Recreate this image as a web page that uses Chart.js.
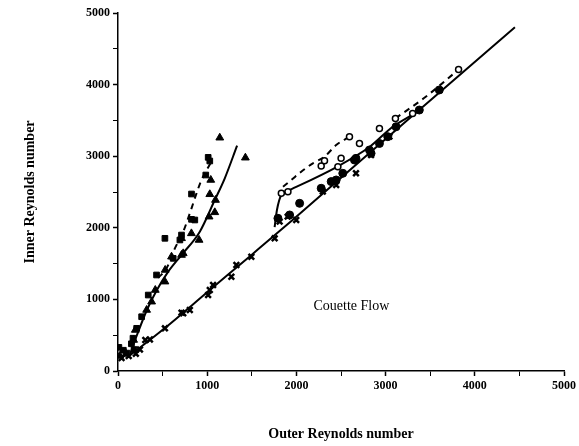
<!DOCTYPE html>
<html>
<head>
<meta charset="utf-8">
<script src="https://cdn.jsdelivr.net/npm/chart.js@4/dist/chart.umd.min.js"></script>
<style>
  html, body { margin: 0; padding: 0; background: #fff; }
  #wrap { width: 579px; height: 446px; }
</style>
</head>
<body>
<div id="wrap"><canvas id="couette"></canvas></div>
<script>
// measured points, [outer Re, inner Re]
const squares = [[10,330],[60,290],[100,250],[150,380],[180,300],[168,458],[209,596],[265,758],[339,1061],[432,1341],
  [526,1853],[619,1573],[694,1830],[712,1899],[824,2118],[861,2109],[824,2472],[984,2737],[1011,2984],[1029,2933]];
const triangles = [[20,210],[90,240],[175,433],[194,573],[321,852],[377,968],[418,1131],[526,1248],[529,1411],
  [600,1596],[712,1620],[731,1643],[712,1853],[823,1922],[909,1830],[1021,2155],[1085,2216],[1093,2388],
  [1029,2468],[1040,2668],[1141,3258],[1428,2979]];
const crosses = [[40,180],[120,210],[200,240],[246,300],[306,433],[358,440],[526,596],[712,815],[731,806],
  [805,852],[1010,1061],[1029,1131],[1066,1201],[1271,1317],[1327,1480],[1495,1596],[1756,1853],[1812,2086],
  [1902,2156],[1998,2109],[2296,2505],[2446,2598],[2668,2761],[2837,3017],[3043,3273]];
const filledCircles = [[1793,2133],[1924,2179],[2036,2342],[2278,2552],[2390,2645],[2446,2668],[2520,2761],
  [2651,2947],[2668,2970],[2819,3087],[2837,3040],[2931,3178],[3024,3273],[3117,3411],[3378,3645],[3602,3925]];
const openCircles = [[1831,2482],[1905,2505],[2278,2863],[2315,2937],[2465,2853],[2501,2970],[2595,3273],
  [2707,3178],[2931,3388],[3110,3528],[3303,3598],[3818,4210]];

// hand drawn curves
const mainFit = [[130,215],[526,600],[1000,1100],[1500,1625],[1957,2109],[3000,3240],[4450,4800]];
const leftSolid = [[140,250],[213,503],[324,852],[436,1131],[563,1387],[712,1620],[917,1946],[1085,2388],[1197,2691],[1335,3147]];
const leftDashed = [[450,1300],[544,1434],[638,1713],[731,1946],[824,2272],[880,2481],[936,2668],[1047,2924]];
const midSolid = [[1756,2011],[1782,2249],[1831,2458],[1924,2528],[2450,2849],[2819,3128],[3080,3411],[3300,3580]];
const midDashed = [[1850,2574],[1943,2668],[2054,2784],[2185,2901],[2315,2993],[2446,3156],[2595,3273]];
const topDashed = [[3110,3528],[3450,3830],[3818,4210]];

const xTicks = [0, 1000, 2000, 3000, 4000, 5000];
const yTicks = [0, 1000, 2000, 3000, 4000, 5000];
const noteText = "Couette Flow";
const notePos = [2617, 908];

const serif = '"Liberation Serif", "Times New Roman", serif';
const pts = a => a.map(p => ({ x: p[0], y: p[1] }));

function marks(data, style, r, filled) {
  return {
    data: pts(data), showLine: false, pointStyle: style, pointRadius: r, pointHoverRadius: r,
    backgroundColor: filled ? "#000" : "#fff", borderColor: "#000", borderWidth: filled ? 1 : 1.5
  };
}
function curve(data, dashed) {
  return {
    data: pts(data), showLine: true, pointRadius: 0, borderColor: "#000", borderWidth: 2,
    borderDash: dashed ? [6, 5] : [], cubicInterpolationMode: "monotone", fill: false
  };
}

const notePlugin = {
  id: "note",
  afterDatasetsDraw: chart => {
    const c = chart.ctx;
    c.save();
    c.font = "14px " + serif;
    c.fillStyle = "#000";
    c.textAlign = "center";
    c.textBaseline = "middle";
    c.fillText(noteText, chart.scales.x.getPixelForValue(notePos[0]), chart.scales.y.getPixelForValue(notePos[1]));
    c.restore();
  }
};

const axis = (ticks, title, pad) => ({
  type: "linear", min: 0, max: 5000,
  afterBuildTicks: s => { s.ticks = []; for (let v = 0; v <= 5000; v += 500) s.ticks.push({ value: v }); },
  ticks: {
    autoSkip: false, color: "#000", padding: 3,
    font: { family: serif, size: 12, weight: "bold" },
    callback: v => ticks.includes(v) ? String(v) : ""
  },
  grid: {
    drawOnChartArea: false, drawTicks: true, tickLength: 5, color: "#000",
    tickWidth: c => (c.tick && c.tick.value % 1000 === 0) ? 1.5 : 1
  },
  border: { display: true, color: "#000", width: 1.5 },
  title: { display: true, text: title, color: "#000", font: { family: serif, size: 14, weight: "bold" }, padding: pad }
});

const xAxis = axis(xTicks, "Outer Reynolds number", { top: 0, bottom: 3 });
xAxis.afterFit = s => { s.height = 75; };
const yAxis = axis(yTicks, "Inner Reynolds number", { top: 22, bottom: 0 });
yAxis.title.align = "center";
yAxis.afterFit = s => { s.width = 118; };

new Chart(document.getElementById("couette"), {
  type: "scatter",
  data: {
    datasets: [
      marks(squares, "rect", 4, true),
      marks(triangles, "triangle", 4.5, true),
      Object.assign(marks(crosses, "crossRot", 4, true), { borderWidth: 2.5 }),
      marks(filledCircles, "circle", 4, true),
      marks(openCircles, "circle", 3, false),
      curve(mainFit, false),
      curve(leftSolid, false),
      curve(leftDashed, true),
      curve(midSolid, false),
      curve(midDashed, true),
      curve(topDashed, true)
    ]
  },
  options: {
    responsive: true, maintainAspectRatio: false, animation: false,
    layout: { padding: { left: 0, right: 14, top: 13, bottom: 0 } },
    scales: { x: xAxis, y: yAxis },
    plugins: { legend: { display: false }, tooltip: { enabled: false } }
  },
  plugins: [notePlugin]
});
</script>
</body>
</html>
